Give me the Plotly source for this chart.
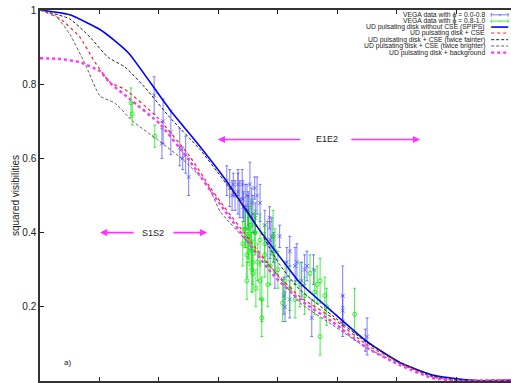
import plotly.graph_objects as go

# ---------------- data (x in tick units, y = squared visibility) ----------------
blue_x = [1.92, 2.07, 2.20, 2.05, 2.35, 2.45, 2.50, 2.40,
          3.14, 3.19, 3.25, 3.28, 3.33, 3.36, 3.40, 3.42, 3.45, 3.48, 3.50, 3.53,
          3.56, 3.58, 3.62, 3.65, 3.83, 3.86, 3.90, 3.93, 3.95, 4.03, 4.10, 4.12,
          4.15, 4.20, 4.32, 4.40, 4.45, 4.49, 4.57, 4.60, 5.09, 5.09, 5.09, 5.50, 5.47,
          3.23, 3.33, 3.41, 3.50, 3.61, 3.70, 3.78, 3.87, 4.20, 4.29]
blue_y = [0.77, 0.70, 0.67, 0.64, 0.63, 0.61, 0.55, 0.60,
          0.54, 0.52, 0.53, 0.50, 0.51, 0.49, 0.53, 0.47, 0.47, 0.50, 0.46, 0.53,
          0.48, 0.45, 0.44, 0.50, 0.37, 0.44, 0.39, 0.36, 0.29, 0.39, 0.23, 0.20,
          0.32, 0.22, 0.32, 0.27, 0.30, 0.31, 0.17, 0.30, 0.23, 0.19, 0.16, 0.12, 0.11,
          0.50, 0.53, 0.49, 0.46, 0.52, 0.48, 0.42, 0.38, 0.35, 0.31]
blue_err = [0.05, 0.06, 0.06, 0.04, 0.05, 0.05, 0.05, 0.03,
            0.04, 0.05, 0.03, 0.04, 0.06, 0.05, 0.04, 0.04, 0.06, 0.03, 0.05, 0.06,
            0.04, 0.05, 0.04, 0.05, 0.06, 0.03, 0.05, 0.04, 0.04, 0.03, 0.05, 0.04,
            0.04, 0.05, 0.05, 0.05, 0.04, 0.04, 0.05, 0.04, 0.08, 0.04, 0.04, 0.05, 0.03,
            0.04, 0.03, 0.05, 0.04, 0.03, 0.05, 0.04, 0.05, 0.04, 0.05]

green_x = [1.53, 1.55, 1.93,
           3.41, 3.45, 3.48, 3.48, 3.50, 3.53, 3.55, 3.56, 3.58, 3.58, 3.62, 3.66,
           3.70, 3.70, 3.78, 3.87, 3.92, 3.95, 4.08, 4.20, 4.45, 4.62, 4.66, 4.71,
           4.79, 4.82, 4.71, 5.29,
           3.45, 3.50, 3.53, 3.56, 3.61, 3.63, 3.73, 3.78, 3.83, 4.00, 4.12, 4.29,
           4.37, 4.54, 3.73]
green_y = [0.75, 0.72, 0.66,
           0.37, 0.41, 0.34, 0.27, 0.39, 0.36, 0.42, 0.35, 0.32, 0.29, 0.40, 0.32,
           0.38, 0.27, 0.34, 0.31, 0.39, 0.35, 0.21, 0.25, 0.23, 0.24, 0.26, 0.27,
           0.23, 0.20, 0.12, 0.18,
           0.41, 0.38, 0.42, 0.30, 0.40, 0.25, 0.22, 0.37, 0.26, 0.30, 0.27, 0.22,
           0.26, 0.29, 0.17]
green_err = [0.04, 0.03, 0.03,
             0.06, 0.05, 0.06, 0.05, 0.06, 0.05, 0.07, 0.05, 0.06, 0.05, 0.06, 0.05,
             0.07, 0.05, 0.06, 0.05, 0.07, 0.06, 0.05, 0.06, 0.05, 0.06, 0.05, 0.06,
             0.05, 0.05, 0.05, 0.07,
             0.05, 0.06, 0.05, 0.06, 0.05, 0.05, 0.06, 0.05, 0.06, 0.05, 0.05, 0.05,
             0.06, 0.05, 0.05]

# model curves
ud_x = [0, 0.5, 1.0, 1.25, 1.5, 2.18, 2.69, 3.14, 3.66, 4.15, 4.37, 4.92, 5.5, 6.05, 6.6, 7.17, 7.56, 7.92]
ud_y = [1.0, 0.987, 0.948, 0.918, 0.882, 0.732, 0.632, 0.538, 0.414, 0.31, 0.265, 0.186, 0.106, 0.050, 0.016, 0.003, 0.0, 0.002]

cse_x = [0, 0.34, 0.67, 0.92, 1.18, 1.43, 1.97, 2.52, 2.86, 3.03, 3.92, 4.37, 4.92, 5.5, 6.05, 6.6, 7.06, 7.5, 7.92]
cse_y = [1.0, 0.976, 0.927, 0.86, 0.805, 0.786, 0.711, 0.605, 0.522, 0.484, 0.30, 0.227, 0.17, 0.097, 0.05, 0.011, 0.0, 0.002, 0.003]

faint_x = [0, 0.5, 0.84, 1.14, 1.43, 1.76, 2.18, 2.69, 3.08, 3.53, 4.03, 4.37, 4.92, 5.5, 6.05, 6.6, 7.23, 7.6, 7.92]
faint_y = [1.0, 0.976, 0.927, 0.873, 0.846, 0.792, 0.711, 0.624, 0.543, 0.449, 0.314, 0.246, 0.176, 0.103, 0.051, 0.014, 0.0, 0.001, 0.002]

bright_x = [0, 0.25, 0.5, 0.76, 1.01, 1.26, 1.56, 1.97, 2.4, 2.81, 3.03, 3.53, 3.92, 4.37, 4.92, 5.5, 6.05, 6.6, 7.14, 7.6, 7.92]
bright_y = [1.0, 0.986, 0.935, 0.854, 0.768, 0.749, 0.70, 0.651, 0.597, 0.53, 0.457, 0.368, 0.30, 0.211, 0.151, 0.089, 0.046, 0.011, 0.0, 0.002, 0.003]

bkg_x = [0, 0.34, 0.67, 1.01, 1.18, 1.51, 2.02, 2.52, 3.03, 3.92, 4.37, 4.92, 5.5, 6.05, 6.6, 7.06, 7.5, 7.92]
bkg_y = [0.87, 0.868, 0.859, 0.835, 0.803, 0.76, 0.692, 0.592, 0.476, 0.286, 0.219, 0.159, 0.089, 0.043, 0.008, 0.0, 0.002, 0.002]

legend_labels = [
    "VEGA data with \u03d5 = 0.0-0.8",
    "VEGA data with \u03d5 = 0.8-1.0",
    "UD pulsating disk without CSE (SPIPS)",
    "UD pulsating disk + CSE",
    "UD pulsating disk + CSE (twice fainter)",
    "UD pulsating disk + CSE (twice brighter)",
    "UD pulsating disk + background",
]

# ---------------- figure ----------------
BLUE_PT = "rgba(70,70,255,0.7)"
GREEN_PT = "rgba(0,225,0,0.7)"

fig = go.Figure()
fig.add_trace(go.Scatter(
    x=blue_x, y=blue_y, mode="markers",
    marker=dict(symbol="x-thin-open", size=4, color=BLUE_PT, line=dict(width=1, color=BLUE_PT)),
    error_y=dict(type="data", array=blue_err, color=BLUE_PT, thickness=1, width=1.5),
    showlegend=False))
fig.add_trace(go.Scatter(
    x=green_x, y=green_y, mode="markers",
    marker=dict(symbol="circle-open", size=4, color=GREEN_PT, line=dict(width=1)),
    error_y=dict(type="data", array=green_err, color=GREEN_PT, thickness=1, width=1.5),
    showlegend=False))

curves = [
    (ud_x, ud_y, dict(color="#0000ff", width=1.6)),
    (cse_x, cse_y, dict(color="#ff2020", width=1.2, dash="dot")),
    (faint_x, faint_y, dict(color="#202020", width=1, dash="3px,2px")),
    (bright_x, bright_y, dict(color="#606060", width=1, dash="3px,2px")),
    (bkg_x, bkg_y, dict(color="#ff33ff", width=2.4, dash="dot")),
]
for cx, cy, ln in curves:
    fig.add_trace(go.Scatter(x=cx, y=cy, mode="lines", line=dict(shape="spline", smoothing=0.5, **ln),
                             showlegend=False, hoverinfo="skip"))

# custom gnuplot-style key (text right-aligned, sample on the right)
legend_styles = [
    dict(color=BLUE_PT, width=1),
    dict(color=GREEN_PT, width=1),
    dict(color="#0000ff", width=1.6),
    dict(color="#ff2020", width=1.2, dash="dot"),
    dict(color="#202020", width=1, dash="3px,2px"),
    dict(color="#606060", width=1, dash="3px,2px"),
    dict(color="#ff33ff", width=2.4, dash="dot"),
]
row_y = [0.987, 0.970, 0.954, 0.938, 0.920, 0.903, 0.885]
annotations = []
shapes = []
for lab, st, yy in zip(legend_labels, legend_styles, row_y):
    annotations.append(dict(x=0.949, y=yy, xref="paper", yref="paper", text=lab, showarrow=False,
                            xanchor="right", yanchor="middle",
                            font=dict(family="Liberation Sans, Arial", size=6.8, color="#222")))
    shapes.append(dict(type="line", xref="paper", yref="paper", x0=0.958, x1=0.994, y0=yy, y1=yy, line=st))
for yy, col, sym in [(row_y[0], BLUE_PT, "\u00d7"), (row_y[1], GREEN_PT, "\u25cb")]:
    annotations.append(dict(x=0.976, y=yy, xref="paper", yref="paper", text=sym, showarrow=False,
                            xanchor="center", yanchor="middle", font=dict(size=6, color=col)))
    for xe in (0.958, 0.994):
        shapes.append(dict(type="line", xref="paper", yref="paper", x0=xe, x1=xe,
                           y0=yy - 0.005, y1=yy + 0.005, line=dict(color=col, width=1)))

ARW = "#ff33ff"
def arrow(x_head, x_tail, y):
    return dict(x=x_head, y=y, ax=x_tail, ay=y, xref="x", yref="y", axref="x", ayref="y",
                showarrow=True, arrowhead=2, arrowsize=0.9, arrowwidth=1.6, arrowcolor=ARW, text="")

annotations += [
    arrow(2.99, 4.40, 0.651), arrow(6.39, 5.21, 0.651),
    dict(x=4.82, y=0.651, xref="x", yref="y", text="E1E2", showarrow=False,
         font=dict(family="Liberation Sans, Arial", size=9, color="#222")),
    arrow(1.01, 1.60, 0.40), arrow(2.81, 2.22, 0.40),
    dict(x=1.90, y=0.40, xref="x", yref="y", text="S1S2", showarrow=False,
         font=dict(family="Liberation Sans, Arial", size=9, color="#222")),
    dict(x=0.47, y=0.049, xref="x", yref="y", text="a)", showarrow=False,
         font=dict(family="Liberation Sans, Arial", size=8, color="#222")),
]

fig.update_layout(
    width=511, height=383,
    margin=dict(l=40, r=0, t=10, b=2, autoexpand=False),
    paper_bgcolor="white", plot_bgcolor="white",
    font=dict(family="Liberation Sans, Arial", size=10, color="#222"),
    annotations=annotations, shapes=shapes, showlegend=False,
    xaxis=dict(range=[0, 7.92], dtick=1, tick0=0, ticks="inside", ticklen=4, tickcolor="#222",
               showticklabels=False, showgrid=False, zeroline=False, automargin=False,
               showline=True, linecolor="#333", linewidth=1.5, mirror="ticks"),
    yaxis=dict(range=[0, 1], dtick=0.2, ticks="inside", ticklen=4, tickcolor="#222",
               showgrid=False, zeroline=False, showline=True, linecolor="#333", linewidth=1.5,
               automargin=False,
               title=dict(text="squared visibilities", standoff=1, font=dict(size=10)),
               tickfont=dict(size=10)),
)

fig.write_html("out.html", config={"displayModeBar": False},
               post_script="document.body.style.margin='0px';document.body.style.overflow='hidden';")
